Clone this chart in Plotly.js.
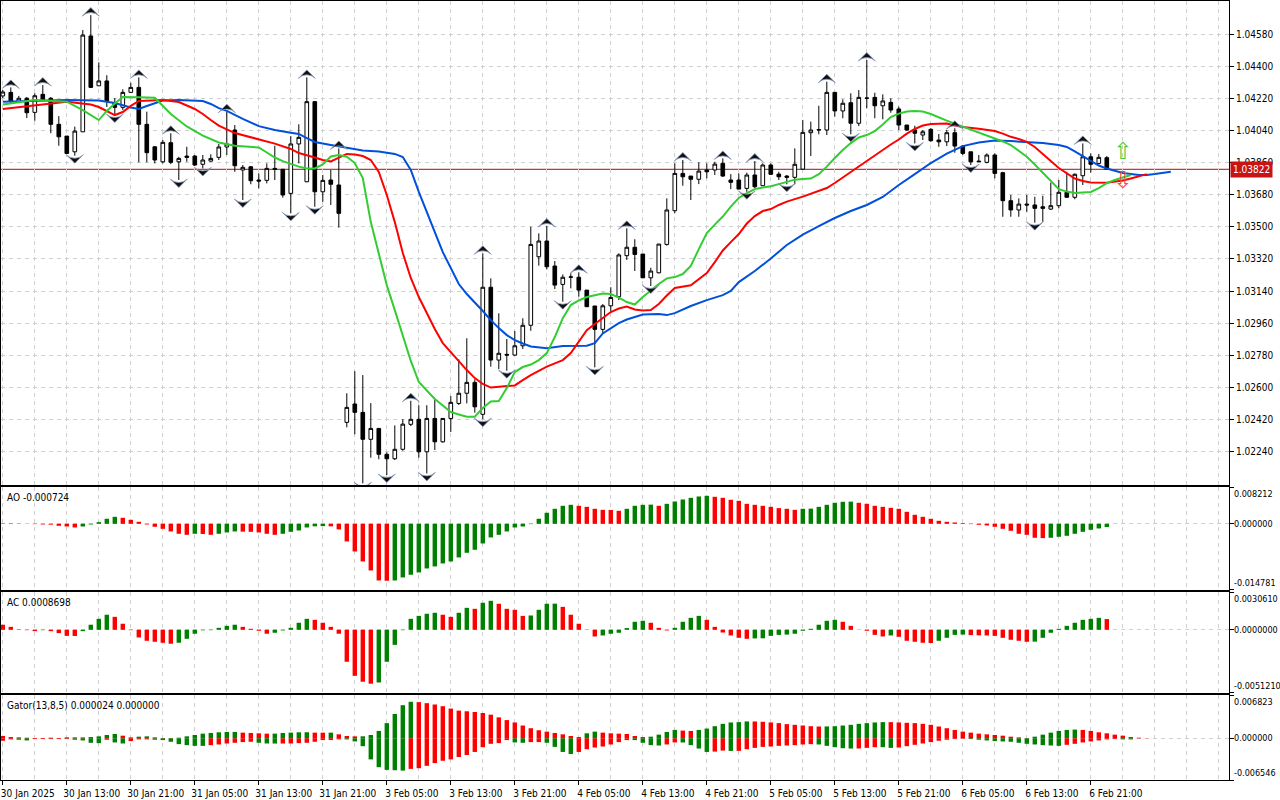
<!DOCTYPE html>
<html><head><meta charset="utf-8">
<script src="https://cdn.plot.ly/plotly-3.0.1.min.js"></script>
<style>html,body{margin:0;padding:0;background:#fff;overflow:hidden}#chart{width:1280px;height:800px}</style>
</head><body><div id="chart"></div>
<script>
// ---- candles (EURUSD H1, 30 Jan 05:00 .. 6 Feb 23:00) ----
const open=[1.04233,1.04253,1.04201,1.04220,1.04141,1.04242,1.04220,1.04074,1.04008,1.03920,
1.04032,1.04569,1.04290,1.04317,1.04195,1.04169,1.04253,1.04281,1.04074,1.03948,
1.03864,1.03971,1.03864,1.03896,1.03896,1.03850,1.03868,1.03889,1.03947,1.04042,
1.03818,1.03836,1.03762,1.03760,1.03827,1.03822,1.03687,1.03964,1.03752,1.04201,
1.03696,1.03762,1.03734,1.02404,1.02507,1.02460,1.02309,1.02370,1.02225,1.02200,
1.02253,1.02393,1.02421,1.02239,1.02426,1.02295,1.02426,1.02510,1.02567,1.02628,
1.02449,1.03161,1.02753,1.02785,1.02781,1.02833,1.02948,1.03332,1.03420,1.03280,
1.03177,1.03217,1.03217,1.03145,1.03056,1.02925,1.03057,1.03108,1.03338,1.03385,
1.03347,1.03214,1.03242,1.03401,1.03590,1.03799,1.03784,1.03766,1.03818,1.03818,
1.03855,1.03762,1.03762,1.03715,1.03790,1.03730,1.03846,1.03795,1.03784,1.03777,
1.03823,1.04027,1.04042,1.04042,1.04253,1.04149,1.04195,1.04080,1.04220,1.04225,
1.04178,1.04197,1.04160,1.04070,1.04042,1.04014,1.04046,1.03986,1.03976,1.04027,
1.03952,1.03920,1.03864,1.03861,1.03902,1.03803,1.03646,1.03594,1.03627,1.03622,
1.03612,1.03599,1.03618,1.03693,1.03665,1.03786,1.03892,1.03855,1.03887];
const high=[1.04266,1.04281,1.04233,1.04227,1.04248,1.04294,1.04227,1.04120,1.04008,1.04061,
1.04602,1.04686,1.04421,1.04349,1.04221,1.04270,1.04307,1.04337,1.04145,1.03952,
1.03986,1.04024,1.03892,1.03948,1.03902,1.03902,1.03906,1.03964,1.04145,1.04070,
1.03846,1.03840,1.03799,1.03855,1.03954,1.03823,1.04008,1.04074,1.04337,1.04205,
1.03790,1.03818,1.03939,1.02567,1.02691,1.02669,1.02512,1.02372,1.02236,1.02387,
1.02422,1.02525,1.02500,1.02500,1.02535,1.02428,1.02551,1.02757,1.02875,1.02645,
1.03351,1.03211,1.03015,1.02871,1.02916,1.02987,1.03500,1.03463,1.03504,1.03308,
1.03233,1.03239,1.03245,1.03145,1.03056,1.03067,1.03161,1.03351,1.03491,1.03430,
1.03347,1.03270,1.03403,1.03659,1.03855,1.03874,1.03784,1.03861,1.03855,1.03864,
1.03883,1.03795,1.03799,1.03803,1.03868,1.03855,1.03855,1.03808,1.03790,1.03939,
1.04098,1.04089,1.04178,1.04313,1.04255,1.04214,1.04248,1.04266,1.04434,1.04251,
1.04242,1.04220,1.04173,1.04070,1.04066,1.04042,1.04052,1.04020,1.04042,1.04052,
1.03958,1.03920,1.03902,1.03911,1.03911,1.03808,1.03678,1.03659,1.03678,1.03668,
1.03674,1.03747,1.03762,1.03808,1.03799,1.03967,1.03911,1.03908,1.03896];
const low=[1.04221,1.04193,1.04193,1.04109,1.04094,1.04205,1.04024,1.03954,1.03908,1.03898,
1.04031,1.04277,1.04289,1.04171,1.04126,1.04154,1.04249,1.03861,1.03861,1.03855,
1.03855,1.03851,1.03762,1.03864,1.03840,1.03827,1.03864,1.03874,1.03902,1.03808,
1.03650,1.03738,1.03715,1.03743,1.03762,1.03663,1.03575,1.03855,1.03750,1.03612,
1.03640,1.03622,1.03495,1.02376,1.02337,1.02062,1.02206,1.02197,1.02109,1.02193,
1.02245,1.02383,1.02206,1.02118,1.02249,1.02290,1.02350,1.02501,1.02510,1.02458,
1.02422,1.02716,1.02703,1.02693,1.02777,1.02815,1.02917,1.03282,1.03261,1.03151,
1.03080,1.03155,1.03108,1.03050,1.02712,1.02904,1.03022,1.03089,1.03314,1.03252,
1.03213,1.03168,1.03239,1.03394,1.03575,1.03730,1.03650,1.03739,1.03771,1.03790,
1.03780,1.03711,1.03711,1.03696,1.03715,1.03728,1.03790,1.03762,1.03738,1.03738,
1.03818,1.03896,1.04018,1.04014,1.04117,1.04108,1.04018,1.04064,1.04164,1.04108,
1.04102,1.04139,1.04042,1.04038,1.03967,1.03986,1.03976,1.03948,1.03952,1.03915,
1.03902,1.03846,1.03863,1.03855,1.03771,1.03556,1.03556,1.03556,1.03584,1.03523,
1.03528,1.03594,1.03603,1.03665,1.03654,1.03734,1.03803,1.03850,1.03822];
const close=[1.04255,1.04201,1.04220,1.04139,1.04234,1.04210,1.04074,1.04004,1.03911,1.04036,
1.04574,1.04281,1.04317,1.04206,1.04169,1.04253,1.04281,1.04074,1.03915,1.03874,
1.03973,1.03861,1.03883,1.03889,1.03846,1.03874,1.03883,1.03947,1.03964,1.03842,
1.03833,1.03758,1.03756,1.03827,1.03822,1.03678,1.03964,1.04001,1.04201,1.03696,
1.03760,1.03738,1.03575,1.02488,1.02460,1.02309,1.02370,1.02225,1.02200,1.02253,
1.02394,1.02421,1.02239,1.02426,1.02295,1.02426,1.02516,1.02567,1.02628,1.02491,
1.03161,1.02753,1.02791,1.02781,1.02833,1.02948,1.03401,1.03420,1.03276,1.03173,
1.03217,1.03219,1.03145,1.03052,1.02925,1.03057,1.03104,1.03342,1.03385,1.03345,
1.03214,1.03252,1.03403,1.03594,1.03799,1.03780,1.03766,1.03812,1.03808,1.03851,
1.03784,1.03749,1.03711,1.03790,1.03724,1.03846,1.03794,1.03780,1.03777,1.03850,
1.04029,1.04042,1.04044,1.04253,1.04149,1.04192,1.04080,1.04225,1.04221,1.04178,
1.04205,1.04154,1.04070,1.04042,1.04024,1.04032,1.03982,1.03976,1.04027,1.03952,
1.03911,1.03864,1.03867,1.03902,1.03799,1.03646,1.03594,1.03627,1.03622,1.03603,
1.03603,1.03618,1.03693,1.03665,1.03794,1.03892,1.03850,1.03889,1.03822];

// ---- Alligator (bar index : value), lines are shifted forward past the last bar ----
const jawIdx=[0,4,8,12,14,16,17,18,19,20,22,24,25,26,27,28,29,30,32,34,36,37,38,39,41,43,45,47,49,50,
51,52,53,54,55,56,57,58,59,60,61,62,63,64,65,66,68,70,73,74,75,76,77,78,80,82,83,84,86,88,
90,91,92,94,96,98,100,102,104,106,108,110,112,114,116,118,120,122,124,126,128,130,132,133,134,135,136,137,138,139,
140,142,143,144,146];
const jawVal=[1.04201,1.04207,1.04210,1.04207,1.04193,1.04168,1.04160,1.04177,1.04193,1.04207,
1.04210,1.04208,1.04205,1.04188,1.04165,1.04149,1.04126,1.04104,1.04064,1.04042,
1.04027,1.04020,1.03997,1.03975,1.03958,1.03943,1.03927,1.03922,1.03908,1.03891,
1.03818,1.03695,1.03577,1.03470,1.03358,1.03269,1.03179,1.03123,1.03078,1.03028,
1.02977,1.02932,1.02893,1.02865,1.02846,1.02829,1.02819,1.02832,1.02833,1.02848,
1.02902,1.02932,1.02960,1.02980,1.03008,1.03011,1.03005,1.03016,1.03056,1.03089,
1.03117,1.03140,1.03190,1.03252,1.03322,1.03398,1.03456,1.03504,1.03549,1.03588,
1.03622,1.03667,1.03734,1.03795,1.03857,1.03910,1.03952,1.03972,1.03983,1.03980,
1.03976,1.03969,1.03958,1.03947,1.03922,1.03896,1.03868,1.03843,1.03826,1.03812,
1.03801,1.03790,1.03790,1.03795,1.03808];
const teethIdx=[0,4,8,11,12,14,15,16,17,20,22,24,25,26,27,29,31,34,36,37,39,40,41,42,43,44,45,46,47,48,
49,50,51,52,53,54,55,56,57,58,59,60,61,62,64,65,66,68,70,71,72,73,74,75,76,77,78,79,80,81,
82,83,84,86,87,88,89,90,91,92,93,94,95,96,97,98,100,102,103,104,105,106,107,108,109,110,111,112,113,114,
115,116,118,119,120,122,124,125,126,127,128,129,130,131,132,133,134,135,136,138,139,140,141,142,143];
const teethVal=[1.04160,1.04182,1.04201,1.04185,1.04171,1.04126,1.04143,1.04177,1.04205,1.04210,
1.04199,1.04160,1.04132,1.04098,1.04067,1.04025,1.04000,1.03966,1.03936,1.03913,
1.03888,1.03874,1.03866,1.03885,1.03908,1.03905,1.03896,1.03874,1.03807,1.03678,
1.03526,1.03353,1.03213,1.03106,1.03014,1.02927,1.02848,1.02798,1.02742,1.02697,
1.02652,1.02619,1.02599,1.02602,1.02611,1.02641,1.02669,1.02716,1.02753,1.02792,
1.02854,1.02921,1.02955,1.02988,1.03022,1.03042,1.03053,1.03036,1.03031,1.03033,
1.03067,1.03115,1.03157,1.03172,1.03207,1.03241,1.03302,1.03367,1.03414,1.03459,
1.03518,1.03560,1.03588,1.03599,1.03622,1.03641,1.03669,1.03700,1.03717,1.03745,
1.03776,1.03809,1.03840,1.03866,1.03902,1.03933,1.03961,1.03989,1.04022,1.04048,
1.04067,1.04076,1.04078,1.04067,1.04059,1.04049,1.04036,1.04022,1.04004,1.03992,
1.03976,1.03947,1.03905,1.03868,1.03829,1.03798,1.03770,1.03756,1.03748,1.03747,
1.03751,1.03759,1.03770,1.03781,1.03795];
const lipsIdx=[0,4,8,10,12,13,14,15,17,19,21,23,25,27,29,31,32,33,34,35,
36,37,38,39,40,41,42,43,44,45,46,47,48,49,50,51,52,53,54,55,56,57,58,59,60,61,62,63,64,65,
66,67,68,69,70,71,72,73,74,75,76,77,78,79,80,81,82,83,84,85,86,87,88,89,90,91,92,93,94,95,
96,97,98,99,100,101,102,103,104,105,106,107,108,109,110,111,112,113,114,115,116,117,118,119,120,121,122,123,124,125,
126,127,128,129,130,131,132,133,134,135,136,137,138,139,140,141];
const lipsVal=[1.04185,1.04210,1.04201,1.04154,1.04098,1.04149,1.04191,1.04227,1.04225,1.04223,
1.04132,1.04062,1.04011,1.03972,1.03954,1.03948,1.03944,1.03916,1.03888,1.03868,
1.03851,1.03837,1.03827,1.03827,1.03849,1.03894,1.03902,1.03892,1.03857,1.03773,
1.03526,1.03342,1.03173,1.03033,1.02893,1.02748,1.02630,1.02582,1.02535,1.02498,
1.02462,1.02448,1.02435,1.02436,1.02484,1.02521,1.02523,1.02596,1.02686,1.02714,
1.02728,1.02753,1.02792,1.02882,1.02988,1.03061,1.03087,1.03106,1.03117,1.03126,
1.03123,1.03103,1.03078,1.03064,1.03106,1.03145,1.03179,1.03211,1.03218,1.03235,
1.03280,1.03375,1.03465,1.03512,1.03557,1.03613,1.03661,1.03689,1.03711,1.03720,
1.03727,1.03739,1.03751,1.03764,1.03767,1.03770,1.03795,1.03837,1.03885,1.03930,
1.03969,1.04000,1.04014,1.04036,1.04073,1.04115,1.04134,1.04146,1.04149,1.04146,
1.04132,1.04112,1.04095,1.04078,1.04062,1.04045,1.04028,1.04011,1.03994,1.03978,
1.03958,1.03924,1.03892,1.03849,1.03804,1.03756,1.03711,1.03697,1.03689,1.03692,
1.03695,1.03717,1.03745,1.03762,1.03776,1.03790];

// ---- Fractals (bar indices) ----
const fractalUpIdx=[1,5,11,17,21,28,38,42,51,60,68,72,78,85,90,94,103,108,119,135];
const fractalDownIdx=[9,14,22,25,30,36,39,45,48,53,60,63,70,74,81,93,98,106,114,121,129];

// ---- signal arrows ----
const signalIdx=[140];
const signalUpPrice=[1.03913];
const signalDownPrice=[1.03751];
const lastPrice=1.03822;

// ---- Awesome Oscillator ----
const ao=[0.00007,0.00008,0.00004,0.00000,-0.00007,-0.00015,-0.00019,-0.00045,-0.00060,-0.00082,
-0.00060,-0.00015,0.00037,0.00112,0.00156,0.00134,0.00089,0.00045,-0.00015,-0.00067,
-0.00112,-0.00171,-0.00223,-0.00246,-0.00223,-0.00227,-0.00246,-0.00223,-0.00193,-0.00171,
-0.00175,-0.00179,-0.00193,-0.00223,-0.00246,-0.00223,-0.00179,-0.00149,-0.00082,-0.00056,
-0.00052,-0.00056,-0.00126,-0.00394,-0.00618,-0.00841,-0.01042,-0.01265,-0.01272,-0.01265,
-0.01198,-0.01138,-0.01086,-0.00997,-0.00952,-0.00885,-0.00841,-0.00751,-0.00647,-0.00580,
-0.00439,-0.00305,-0.00246,-0.00171,-0.00082,-0.00060,-0.00007,0.00112,0.00246,0.00335,
0.00402,0.00424,0.00402,0.00379,0.00335,0.00312,0.00309,0.00290,0.00335,0.00402,
0.00424,0.00428,0.00402,0.00446,0.00498,0.00543,0.00580,0.00610,0.00625,0.00603,
0.00580,0.00536,0.00513,0.00446,0.00424,0.00402,0.00379,0.00350,0.00335,0.00312,
0.00335,0.00339,0.00379,0.00424,0.00469,0.00491,0.00495,0.00469,0.00446,0.00402,
0.00379,0.00357,0.00335,0.00268,0.00201,0.00156,0.00112,0.00067,0.00045,0.00030,
0.00015,-0.00007,-0.00022,-0.00037,-0.00067,-0.00112,-0.00156,-0.00223,-0.00246,-0.00312,
-0.00320,-0.00312,-0.00290,-0.00268,-0.00223,-0.00179,-0.00134,-0.00104,-0.000724];

// ---- Accelerator Oscillator ----
const ac=[0.00041,0.00024,0.00003,-0.00003,-0.00011,-0.00003,-0.00011,-0.00027,-0.00049,-0.00050,
-0.00011,0.00041,0.00089,0.00122,0.00105,0.00049,-0.00003,-0.00062,-0.00089,-0.00097,
-0.00105,-0.00113,-0.00105,-0.00073,-0.00032,-0.00004,-0.00003,0.00016,0.00032,0.00041,
0.00024,0.00008,-0.00008,-0.00032,-0.00024,-0.00005,0.00016,0.00057,0.00089,0.00081,
0.00057,0.00024,-0.00032,-0.00259,-0.00373,-0.00421,-0.00437,-0.00427,-0.00259,-0.00122,
-0.00003,0.00089,0.00113,0.00130,0.00138,0.00122,0.00105,0.00138,0.00178,0.00170,
0.00219,0.00235,0.00211,0.00170,0.00162,0.00113,0.00116,0.00162,0.00211,0.00212,
0.00186,0.00122,0.00049,-0.00001,-0.00054,-0.00046,-0.00032,-0.00024,0.00014,0.00065,
0.00073,0.00057,0.00016,-0.00005,0.00016,0.00065,0.00097,0.00113,0.00081,0.00024,
-0.00022,-0.00046,-0.00065,-0.00073,-0.00070,-0.00069,-0.00049,-0.00041,-0.00039,-0.00032,
-0.00008,0.00008,0.00041,0.00073,0.00081,0.00065,0.00032,0.00000,-0.00008,-0.00041,
-0.00054,-0.00046,-0.00057,-0.00089,-0.00097,-0.00105,-0.00107,-0.00089,-0.00065,-0.00041,
-0.00039,-0.00043,-0.00045,-0.00046,-0.00049,-0.00065,-0.00081,-0.00089,-0.00097,-0.00096,
-0.00065,-0.00024,0.00008,0.00032,0.00057,0.00081,0.00089,0.00097,0.0008698];

// ---- Gator Oscillator (13,8,5) ----
const gatorUp=[0.000373,0.000213,0.000160,0.000107,0.000053,0.000053,0.000107,0.000053,0.000160,0.000160,
0.000160,0.000213,0.000320,0.000533,0.000693,0.000426,0.000160,0.000267,0.000320,0.000160,
0.000053,0.000053,0.000107,0.000320,0.000533,0.000746,0.000853,0.000959,0.001013,0.001020,
0.000906,0.000853,0.000800,0.000746,0.000750,0.000853,0.000906,0.000959,0.000965,0.000906,
0.000900,0.000905,0.000640,0.000373,0.000320,0.000325,0.000533,0.001173,0.002399,0.003838,
0.005223,0.005756,0.005703,0.005543,0.005330,0.005064,0.004690,0.004371,0.004264,0.004157,
0.003998,0.003731,0.003305,0.002878,0.002505,0.002025,0.001599,0.001279,0.001066,0.000853,
0.000640,0.000373,0.000213,0.000800,0.001066,0.000906,0.000800,0.000746,0.000693,0.000373,
0.000213,0.000267,0.000586,0.001013,0.001333,0.001226,0.001173,0.001333,0.001546,0.001919,
0.002292,0.002505,0.002558,0.002665,0.002660,0.002612,0.002505,0.002399,0.002239,0.002132,
0.002025,0.001919,0.001866,0.001880,0.001919,0.002025,0.002132,0.002292,0.002399,0.002505,
0.002558,0.002555,0.002505,0.002452,0.002399,0.002292,0.002132,0.001866,0.001599,0.001333,
0.001066,0.000906,0.000746,0.000640,0.000533,0.000426,0.000267,0.000160,0.000053,0.000267,
0.000586,0.000906,0.001173,0.001333,0.001386,0.001333,0.001173,0.000959,0.000800,0.000586,
0.000426,0.000213,0.000107,0.000024];
const gatorDown=[-0.000373,-0.000160,-0.000213,-0.000320,-0.000107,-0.000107,-0.000107,-0.000107,-0.000107,-0.000213,
-0.000320,-0.000693,-0.000746,-0.000213,-0.000640,-0.000800,-0.000426,-0.000160,-0.000160,-0.000213,
-0.000267,-0.000533,-0.000906,-0.001066,-0.001173,-0.001180,-0.001066,-0.000959,-0.000800,-0.000693,
-0.000586,-0.000533,-0.000693,-0.000800,-0.000810,-0.000805,-0.000800,-0.000746,-0.000693,-0.000533,
-0.000267,-0.000260,-0.000160,-0.000165,-0.000480,-0.001226,-0.003305,-0.004531,-0.004957,-0.005010,
-0.005064,-0.004797,-0.004690,-0.004317,-0.003891,-0.003518,-0.003305,-0.002932,-0.002612,-0.002132,
-0.001386,-0.000853,-0.000746,-0.000267,-0.000640,-0.000693,-0.000586,-0.000580,-0.000693,-0.001333,
-0.002132,-0.002452,-0.002132,-0.001706,-0.001439,-0.001279,-0.000959,-0.000586,-0.000267,-0.000270,
-0.000693,-0.001066,-0.001119,-0.000959,-0.000640,-0.000645,-0.001066,-0.001599,-0.002132,-0.002079,
-0.001919,-0.001972,-0.001965,-0.001706,-0.001492,-0.001333,-0.001279,-0.001173,-0.001119,-0.001066,
-0.000959,-0.000906,-0.000959,-0.001173,-0.001386,-0.001546,-0.001599,-0.001590,-0.001492,-0.001386,
-0.001390,-0.001492,-0.001439,-0.001226,-0.001013,-0.000800,-0.000586,-0.000373,-0.000213,-0.000107,
-0.000053,-0.000107,-0.000213,-0.000320,-0.000426,-0.000480,-0.000533,-0.000693,-0.000853,-0.000959,
-0.001066,-0.001119,-0.001173,-0.001013,-0.000853,-0.000640,-0.000480,-0.000320,-0.000160,-0.000107,
-0.000160,-0.000165,0,0];

// ---- axis ticks ----
const priceTicks=[1.02240,1.02420,1.02600,1.02780,1.02960,1.03140,1.03320,1.03500,1.03680,1.03860,1.04040,1.04220,1.04400,1.04580];
const timeTickIdx=[0,8,16,24,32,40,48,56,64,72,80,88,96,104,112,120,128,136];
const timeTickText=['30 Jan 2025','30 Jan 13:00','30 Jan 21:00','31 Jan 05:00','31 Jan 13:00','31 Jan 21:00',
'3 Feb 05:00','3 Feb 13:00','3 Feb 21:00','4 Feb 05:00','4 Feb 13:00','4 Feb 21:00',
'5 Feb 05:00','5 Feb 13:00','5 Feb 21:00','6 Feb 05:00','6 Feb 13:00','6 Feb 21:00'];
const aoRange=[-0.014781,0.008212], acRange=[-0.0051210,0.0030610], gatorRange=[-0.006546,0.006823];
const aoLabels=['0.008212','0.000000','-0.014781'];
const acLabels=['0.0030610','0.0000000','-0.0051210'];
const gatorLabels=['0.006823','0.000000','-0.006546'];

// ---- drawing ----
const GREEN='#008000', RED='#ff0000', GRID='#cfcfcf', DASH='4px,4px';
const FONT="'DejaVu Sans Condensed','DejaVu Sans',sans-serif";
const FRACTAL_GAP=0.00042;
const barX=open.map((_,k)=>k);
const gX=gatorUp.map((_,k)=>k);
function trendColors(vals,useAbs){
  return vals.map((v,k)=>{ if(k===0) return RED;
    const a=useAbs?Math.abs(v):v, b=useAbs?Math.abs(vals[k-1]):vals[k-1];
    return a>b?GREEN:RED; });
}

const traces=[
 {type:'candlestick',x:barX,open:open,high:high,low:low,close:close,xaxis:'x',yaxis:'y',
  increasing:{line:{color:'#000',width:1},fillcolor:'#ffffff'},
  decreasing:{line:{color:'#000',width:1},fillcolor:'#000000'},
  whiskerwidth:0,hoverinfo:'skip'},
 {type:'scatter',mode:'lines',x:jawIdx,y:jawVal,line:{color:'#0050dc',width:2},xaxis:'x',yaxis:'y',hoverinfo:'skip'},
 {type:'scatter',mode:'lines',x:teethIdx,y:teethVal,line:{color:'#ff0000',width:2},xaxis:'x',yaxis:'y',hoverinfo:'skip'},
 {type:'scatter',mode:'lines',x:lipsIdx,y:lipsVal,line:{color:'#32cd32',width:2},xaxis:'x',yaxis:'y',hoverinfo:'skip'},
 {type:'scatter',mode:'markers',x:fractalUpIdx,y:fractalUpIdx.map(i=>high[i]+FRACTAL_GAP),
  marker:{symbol:'arrow-wide',size:12,color:'#111',line:{color:'#8196b8',width:0.8}},xaxis:'x',yaxis:'y',hoverinfo:'skip'},
 {type:'scatter',mode:'markers',x:fractalDownIdx,y:fractalDownIdx.map(i=>low[i]-FRACTAL_GAP),
  marker:{symbol:'arrow-wide',angle:180,size:12,color:'#111',line:{color:'#8196b8',width:0.8}},xaxis:'x',yaxis:'y',hoverinfo:'skip'},
 {type:'scatter',mode:'text',x:signalIdx,y:signalUpPrice,text:['\u21E7'],textposition:'middle center',
  textfont:{size:23,color:'#44cc44',family:'DejaVu Sans'},xaxis:'x',yaxis:'y',hoverinfo:'skip'},
 {type:'scatter',mode:'text',x:signalIdx,y:signalDownPrice,text:['\u21E9'],textposition:'middle center',
  textfont:{size:23,color:'#ff4848',family:'DejaVu Sans'},xaxis:'x',yaxis:'y',hoverinfo:'skip'},
 {type:'bar',x:barX,y:ao,marker:{color:trendColors(ao,false),line:{width:0}},xaxis:'x2',yaxis:'y2',hoverinfo:'skip'},
 {type:'bar',x:barX,y:ac,marker:{color:trendColors(ac,false),line:{width:0}},xaxis:'x3',yaxis:'y3',hoverinfo:'skip'},
 {type:'bar',x:gX,y:gatorUp,marker:{color:trendColors(gatorUp,false),line:{width:0}},xaxis:'x4',yaxis:'y4',hoverinfo:'skip'},
 {type:'bar',x:gX,y:gatorDown,marker:{color:trendColors(gatorDown,true),line:{width:0}},xaxis:'x4',yaxis:'y4',hoverinfo:'skip'}
];

const xr=[-0.225,153.275];
function xAxis(anchor,labels){
  const a={domain:[0,1],range:xr,anchor:anchor,showline:true,mirror:true,linecolor:'#000',linewidth:1,
    zeroline:false,showgrid:true,gridcolor:GRID,griddash:DASH,gridwidth:1,
    tickmode:'array',tickvals:timeTickIdx,ticktext:timeTickText,
    minor:{tickmode:'linear',tick0:0,dtick:4,showgrid:true,gridcolor:GRID,griddash:DASH,ticklen:0},
    showticklabels:!!labels,ticks:labels?'outside':'',ticklen:4,tickcolor:'#000',
    tickfont:{family:FONT,size:10,color:'#000'},fixedrange:true,rangeslider:{visible:false}};
  if(labels){a.ticklabelshift=25;}
  if(anchor!=='y'){a.matches='x';}
  return a;
}
function paneY(domain,range){
  return {domain:domain,range:range,side:'right',showline:true,mirror:true,linecolor:'#000',linewidth:1,
    zeroline:false,tickmode:'array',tickvals:[range[1],0,range[0]],showticklabels:false,
    ticks:'outside',ticklen:4,tickcolor:'#000',showgrid:true,gridcolor:GRID,griddash:DASH,fixedrange:true};
}
const annFont={family:FONT,size:10,color:'#000'};
const paneFont={family:FONT,size:9,color:'#000'};
function paneLabels(yref,range,labels){
  return [
   {xref:'paper',x:1,xanchor:'left',xshift:3,yref:yref,y:range[1],yanchor:'top',text:labels[0],showarrow:false,font:paneFont},
   {xref:'paper',x:1,xanchor:'left',xshift:3,yref:yref,y:0,yanchor:'middle',text:labels[1],showarrow:false,font:paneFont},
   {xref:'paper',x:1,xanchor:'left',xshift:3,yref:yref,y:range[0],yanchor:'bottom',text:labels[2],showarrow:false,font:paneFont}
  ];
}
const annotations=[
 ...paneLabels('y2',aoRange,aoLabels),
 ...paneLabels('y3',acRange,acLabels),
 ...paneLabels('y4',gatorRange,gatorLabels),
 {xref:'paper',x:0,xanchor:'left',xshift:4,yref:'y2 domain',y:1,yanchor:'top',yshift:-3,text:'AO -0.000724',showarrow:false,font:annFont},
 {xref:'paper',x:0,xanchor:'left',xshift:4,yref:'y3 domain',y:1,yanchor:'top',yshift:-3,text:'AC 0.0008698',showarrow:false,font:annFont},
 {xref:'paper',x:0,xanchor:'left',xshift:4,yref:'y4 domain',y:1,yanchor:'top',yshift:-3,text:'Gator(13,8,5) 0.000024 0.000000',showarrow:false,font:annFont},
 {xref:'paper',x:1,xanchor:'left',xshift:1,yref:'y',y:lastPrice,yanchor:'middle',text:lastPrice.toFixed(5),showarrow:false,
  bgcolor:'#c81414',borderpad:2,font:{family:FONT,size:10,color:'#ffffff'}}
];

const layout={
 width:1280,height:800,margin:{l:1,r:51,t:1,b:20},
 paper_bgcolor:'#ffffff',plot_bgcolor:'#ffffff',showlegend:false,
 font:{family:FONT,size:10,color:'#000'},
 barmode:'overlay',bargap:0.45,boxgap:0.35,
 xaxis:xAxis('y',false),xaxis2:xAxis('y2',false),xaxis3:xAxis('y3',false),xaxis4:xAxis('y4',true),
 yaxis:{domain:[0.3787,1],range:[1.02053,1.04765],side:'right',showline:true,mirror:true,linecolor:'#000',linewidth:1,
   zeroline:false,tickmode:'array',tickvals:priceTicks,ticktext:priceTicks.map(v=>v.toFixed(5)),
   ticks:'outside',ticklen:4,tickcolor:'#000',tickfont:{family:FONT,size:10,color:'#000'},
   showgrid:true,gridcolor:GRID,griddash:DASH,fixedrange:true},
 yaxis2:paneY([0.2439,0.3761],aoRange),
 yaxis3:paneY([0.1117,0.2413],acRange),
 yaxis4:paneY([0,0.1091],gatorRange),
 shapes:[{type:'line',xref:'x domain',x0:0,x1:1,yref:'y',y0:lastPrice,y1:lastPrice,line:{color:'#a01010',width:1},layer:'below'}],
 annotations:annotations
};
Plotly.newPlot('chart',traces,layout,{staticPlot:true,displayModeBar:false});
</script>
</body></html>
